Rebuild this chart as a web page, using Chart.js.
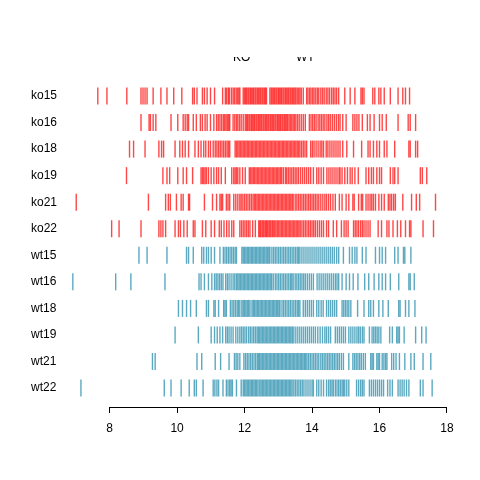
<!DOCTYPE html>
<html>
<head>
<meta charset="utf-8">
<script src="https://cdn.jsdelivr.net/npm/chart.js@4"></script>
<style>
  html, body { margin: 0; padding: 0; background: #fff; }
  #wrap { width: 480px; height: 480px; }
</style>
</head>
<body>
<div id="wrap"><canvas id="chart" width="480" height="480"></canvas></div>
<script>
// rows from top to bottom
var rowNames = ['ko15', 'ko16', 'ko18', 'ko19', 'ko21', 'ko22', 'wt15', 'wt16', 'wt18', 'wt19', 'wt21', 'wt22'];
var legendNames = ['KO', 'WT'];
var xTicks = [8, 10, 12, 14, 16, 18];

var ko15 = [7.65,7.92,8.51,8.93,8.99,9.05,9.11,9.29,9.52,9.70,9.90,10.14,10.46,10.51,10.59,10.75,10.81,10.89,10.99,11.11,11.35,11.43,
  11.47,11.52,11.55,11.61,11.66,11.70,11.75,11.79,11.83,11.86,
  11.96,12.0,12.03,12.06,12.1,12.13,12.17,12.2,12.24,12.27,12.31,12.34,12.38,12.41,12.45,12.48,12.52,12.55,12.59,12.62,12.65,
  12.75,12.79,12.82,12.86,12.89,12.93,12.96,13.0,13.03,13.07,13.1,13.14,13.17,13.21,13.24,13.28,13.31,13.35,13.38,13.42,13.45,13.49,13.52,13.56,13.6,13.64,13.68,13.74,
  13.84,13.88,13.93,13.97,14.02,14.06,14.11,14.16,14.2,14.26,14.31,14.36,14.42,14.47,14.52,14.58,14.63,14.68,14.73,
  14.79,14.97,15.13,15.27,15.45,15.49,15.54,15.80,15.86,15.98,16.04,16.14,16.32,16.55,16.69,16.77,16.89];
var ko16 = [8.93,9.17,9.21,9.29,9.37,9.82,10.02,10.18,10.24,10.30,10.34,10.48,10.57,10.69,10.75,10.83,10.89,10.99,11.09,
  11.17,11.22,11.27,11.32,11.37,11.41,11.45,11.49,11.53,11.56,
  11.66,11.71,11.76,11.8,11.85,11.9,11.96,
  12.02,12.06,12.09,12.13,12.16,12.2,12.23,12.27,12.3,12.34,12.37,12.41,12.44,12.48,12.51,12.55,12.58,12.62,12.65,12.69,12.72,12.76,12.79,12.83,12.86,12.9,12.93,12.97,13.0,13.04,13.07,13.11,13.14,13.18,13.21,13.25,13.28,13.32,13.36,13.4,13.44,13.48,13.52,13.57,13.62,13.68,13.74,
  13.80,13.92,13.97,14.02,14.07,14.12,14.18,14.23,14.28,14.33,14.38,14.44,14.49,14.54,14.6,14.66,14.72,14.78,14.83,
  14.91,15.01,15.21,15.27,15.33,15.39,15.49,15.64,15.72,15.84,16.00,16.08,16.20,16.55,16.85,16.91,17.07];
var ko18 = [8.59,8.71,9.05,9.46,9.54,9.60,9.94,10.08,10.16,10.24,10.34,10.53,10.63,10.71,10.79,10.85,10.93,10.99,11.07,
  11.13,11.18,11.23,11.28,11.33,11.38,11.43,11.48,11.52,11.56,
  11.72,11.76,11.8,11.84,11.88,11.92,11.96,12.0,12.04,12.08,12.12,12.16,12.2,12.24,12.28,12.32,12.36,12.4,12.44,12.48,12.52,12.56,12.6,12.64,12.68,12.72,12.76,12.8,12.84,12.88,12.92,12.96,13.0,13.04,13.08,13.12,13.16,13.2,13.24,13.28,13.32,13.36,13.4,13.44,13.48,13.52,13.56,13.6,13.64,13.69,13.74,13.79,13.84,
  13.96,14.01,14.06,14.12,14.18,14.24,14.29,14.34,14.42,14.47,14.53,14.59,14.65,14.71,14.77,14.83,
  14.91,15.03,15.23,15.47,15.66,15.72,15.82,15.92,16.00,16.14,16.22,16.45,16.87,16.91,17.07,17.13];
var ko19 = [8.50,9.58,9.70,9.78,10.02,10.18,10.28,10.46,10.71,10.75,10.79,10.83,10.87,10.93,11.01,11.09,11.17,11.23,11.31,11.43,11.62,11.68,11.72,11.76,11.80,11.86,11.94,12.02,
  12.14,12.18,12.22,12.26,12.3,12.34,12.38,12.42,12.46,12.5,12.54,12.58,12.62,12.66,12.7,12.74,12.78,12.82,12.86,12.9,12.94,12.98,13.02,13.06,13.1,13.15,
  13.21,13.25,13.3,13.35,13.4,13.45,13.5,13.55,13.6,13.66,13.72,13.78,13.84,13.9,13.96,14.04,
  14.14,14.2,14.27,14.34,14.44,14.5,14.56,14.62,14.68,14.74,14.8,14.83,
  14.89,14.97,15.05,15.13,15.19,15.27,15.37,15.60,15.68,15.76,15.82,15.92,16.00,16.06,16.32,16.40,16.45,16.55,17.21,17.27,17.40];
var ko21 = [7.01,9.15,9.66,9.74,9.80,9.98,10.12,10.18,10.34,10.37,10.81,11.05,11.17,11.27,11.31,11.35,11.46,11.51,11.56,11.68,11.74,11.8,11.86,
  11.9,11.95,12.0,12.05,12.1,12.15,12.2,12.25,
  12.29,12.33,12.37,12.41,12.45,12.49,12.53,12.57,12.61,12.65,12.69,12.73,12.77,12.81,12.85,12.89,12.93,12.97,13.01,13.05,13.09,13.13,13.17,13.21,13.25,13.29,13.33,13.37,13.41,13.44,
  13.5,13.55,13.6,13.65,13.7,13.75,13.8,13.85,13.9,13.95,14.0,14.05,14.1,14.15,14.2,14.26,14.32,14.38,14.43,
  14.49,14.55,14.62,14.69,14.81,14.89,15.01,15.09,15.21,15.25,15.38,15.46,15.50,15.60,15.66,15.72,15.77,15.82,15.88,15.98,16.06,16.14,16.26,16.31,16.36,16.42,16.47,16.69,16.95,17.09,17.19,17.66];
var ko22 = [8.06,8.28,8.93,9.46,9.52,9.58,9.66,9.94,10.04,10.10,10.20,10.30,10.48,10.53,10.75,10.85,11.01,11.11,11.25,11.31,11.39,11.47,11.54,11.62,11.68,
  11.86,11.91,11.96,12.01,12.06,12.11,12.16,12.24,12.32,
  12.42,12.45,12.48,12.52,12.55,12.58,12.62,12.65,12.68,12.72,12.75,12.78,12.82,12.85,
  12.89,12.93,12.97,13.01,13.05,13.09,13.13,13.17,13.21,13.25,13.29,13.33,13.37,13.41,13.45,13.49,13.53,13.57,13.61,13.65,13.7,13.75,13.8,13.85,13.9,13.95,14.0,14.05,14.1,14.16,14.22,14.28,14.34,14.43,
  14.49,14.63,14.73,14.87,14.95,15.01,15.07,15.23,15.28,15.33,15.38,15.44,15.49,15.54,15.6,15.66,15.72,15.96,16.06,16.22,16.28,16.40,16.53,16.63,16.77,16.89,16.93,17.29,17.60];
var wt15 = [8.87,9.11,9.70,10.28,10.34,10.48,10.73,10.79,10.87,10.93,11.01,11.11,11.27,
  11.37,11.42,11.47,11.52,11.57,11.62,11.67,11.72,11.76,
  11.92,11.96,12.0,12.04,12.08,12.12,12.16,12.2,12.24,12.28,12.32,12.36,12.4,12.44,12.48,12.52,12.56,12.6,12.64,12.68,12.72,12.75,
  12.81,12.86,12.91,12.96,13.01,13.06,13.11,13.16,13.21,13.26,13.31,13.36,13.41,13.46,13.51,13.56,13.6,13.64,
  13.7,13.76,13.82,13.88,13.94,14.0,14.06,14.12,14.18,14.24,
  14.30,14.36,14.42,14.48,14.54,14.6,14.66,14.73,
  14.79,14.93,15.11,15.19,15.27,15.33,15.49,15.60,15.88,16.00,16.08,16.18,16.45,16.55,16.71,16.75,16.93];
var wt16 = [6.91,8.18,8.63,9.64,10.65,10.71,10.81,10.93,11.03,11.11,11.16,11.21,11.26,11.31,11.36,11.44,11.49,11.54,11.6,11.66,11.71,11.76,
  11.8,11.84,11.88,11.92,11.96,12.0,12.04,12.08,12.12,12.16,12.2,12.24,12.28,12.32,12.36,12.4,12.44,12.48,12.52,12.56,12.6,12.64,12.68,12.72,12.76,12.8,12.85,
  12.91,12.96,13.01,13.06,13.11,13.16,13.21,13.26,13.31,13.36,13.4,13.44,
  13.5,13.55,13.6,13.65,13.7,13.75,13.8,13.86,13.92,13.98,14.04,
  14.15,14.21,14.27,14.33,14.39,14.45,14.51,14.57,14.63,14.69,14.74,14.79,
  14.89,15.01,15.11,15.22,15.36,15.56,15.68,15.84,15.98,16.08,16.18,16.32,16.57,16.87,16.91,17.03];
var wt18 = [10.04,10.16,10.28,10.40,10.57,10.87,10.93,11.09,11.13,11.23,11.38,11.42,11.46,11.58,11.63,11.68,11.73,11.78,11.82,11.86,
  11.92,11.96,12.0,12.04,12.08,12.12,12.16,
  12.22,12.26,12.3,12.34,12.38,12.42,12.46,12.5,12.54,12.58,12.62,12.66,12.7,12.74,12.78,12.82,12.86,12.9,12.94,12.98,13.02,13.05,
  13.11,13.16,13.21,13.26,13.31,13.36,13.41,13.46,13.51,13.56,13.6,13.64,
  13.74,13.8,13.86,13.92,13.98,14.04,14.14,14.2,14.27,14.33,14.43,14.49,14.55,14.61,14.67,14.73,
  14.89,14.94,14.99,15.04,15.09,15.15,15.35,15.54,15.68,15.74,15.82,15.98,16.10,16.26,16.57,16.61,16.77,16.87,17.05];
var wt19 = [9.94,10.63,11.01,11.11,11.19,11.27,11.35,11.44,11.49,11.54,11.6,11.66,11.74,11.80,11.86,11.91,11.96,12.01,12.06,
  12.12,12.17,12.22,12.27,12.32,12.37,12.41,12.45,
  12.49,12.53,12.57,12.61,12.65,12.69,12.73,12.77,12.81,12.85,12.89,12.93,12.97,13.01,13.05,13.09,13.13,13.17,13.21,13.25,13.29,13.33,13.37,13.41,13.44,
  13.5,13.56,13.62,13.68,13.74,13.8,13.86,13.92,13.98,14.04,14.1,14.17,14.24,14.31,14.38,14.43,14.49,14.55,
  14.69,14.75,14.81,14.87,14.93,14.99,15.09,15.15,15.21,15.27,15.33,15.38,15.43,15.49,15.54,15.70,15.78,15.83,15.88,15.93,15.98,16.04,16.30,16.38,16.51,16.55,16.59,16.73,17.07,17.25,17.38];
var wt21 = [9.27,9.35,10.59,10.73,11.13,11.29,11.54,11.70,11.75,11.8,11.86,11.98,12.03,12.08,12.13,12.18,12.23,12.28,12.33,12.38,12.42,12.45,
  12.49,12.53,12.57,12.61,12.65,12.69,12.73,12.77,12.81,12.85,12.89,12.93,12.97,13.01,13.05,13.09,13.13,13.17,13.21,13.25,13.29,13.33,13.37,13.41,
  13.45,13.49,13.53,13.57,13.61,13.65,13.69,13.73,13.77,13.81,13.85,13.9,13.95,14.0,14.05,14.1,14.15,14.2,
  14.26,14.31,14.36,14.41,14.46,14.51,14.56,14.61,14.66,14.71,14.76,14.81,14.87,14.93,
  15.09,15.21,15.26,15.31,15.36,15.41,15.46,15.52,15.58,15.74,15.78,15.82,15.92,15.96,16.00,16.08,16.13,16.18,16.22,16.36,16.42,16.49,16.59,16.75,16.93,17.03,17.29,17.52];
var wt22 = [7.15,9.62,9.82,10.12,10.36,10.51,10.57,10.77,11.07,11.12,11.18,11.23,11.36,11.46,11.51,11.56,11.6,11.64,11.76,11.90,
  11.96,12.0,12.04,12.08,12.12,12.16,12.2,12.24,12.28,12.32,12.36,12.4,12.45,
  12.49,12.53,12.57,12.61,12.65,12.69,12.73,12.77,12.81,12.85,12.89,12.93,12.97,13.01,13.05,13.09,13.13,13.17,13.21,13.25,13.29,13.33,13.37,13.41,
  13.46,13.51,13.56,13.61,13.66,13.71,13.76,13.82,13.88,13.94,14.0,14.04,14.14,14.2,14.27,14.34,14.43,14.49,14.54,14.59,14.63,
  14.69,14.74,14.79,14.84,14.89,14.93,14.97,15.03,15.09,15.32,15.38,15.44,15.49,15.54,15.70,15.76,15.82,15.88,15.94,16.0,16.06,16.12,16.24,16.31,16.38,16.55,16.61,16.67,16.73,16.8,16.87,17.21,17.29,17.56];

var rowValues = [ko15, ko16, ko18, ko19, ko21, ko22, wt15, wt16, wt18, wt19, wt21, wt22];
var koColor = 'rgba(255, 25, 25, 0.8)';
var wtColor = 'rgba(50, 148, 178, 0.8)';
var fontFamily = '"Liberation Sans", Arial, sans-serif';

var datasets = rowValues.map(function(vals, i) {
  var col = rowNames[i].indexOf('ko') === 0 ? koColor : wtColor;
  return {
    label: rowNames[i],
    data: vals.map(function(v) { return { x: v, y: i }; }),
    pointStyle: 'line',
    rotation: 90,
    radius: 8.5,
    borderWidth: 1.4,
    borderColor: col,
    backgroundColor: col
  };
});

// R-style axis line that only spans the first to the last tick, plus the clipped legend
var extras = {
  id: 'extras',
  afterDraw: function(chart) {
    var ctx = chart.ctx;
    var xs = chart.scales.x;
    var y0 = chart.chartArea.bottom + 0.5;
    ctx.save();
    ctx.strokeStyle = '#000';
    ctx.lineWidth = 1;
    ctx.beginPath();
    ctx.moveTo(xs.getPixelForValue(xTicks[0]), y0);
    ctx.lineTo(xs.getPixelForValue(xTicks[xTicks.length - 1]), y0);
    ctx.stroke();

    // legend sits mostly above the visible region, only its lower edge shows
    ctx.beginPath();
    ctx.rect(0, 57, 480, 6);
    ctx.clip();
    ctx.fillStyle = '#000';
    ctx.font = '12px ' + fontFamily;
    ctx.textBaseline = 'alphabetic';
    ctx.fillText(legendNames[0], 233, 61);
    ctx.fillText(legendNames[1], 296, 61);
    ctx.restore();
  }
};

new Chart(document.getElementById('chart'), {
  type: 'scatter',
  data: { datasets: datasets },
  options: {
    responsive: false,
    animation: false,
    events: [],
    layout: { padding: { top: 83, left: 31, right: 32, bottom: 0 } },
    plugins: { legend: { display: false }, tooltip: { enabled: false } },
    scales: {
      x: {
        type: 'linear',
        min: 6.47,
        max: 18.03,
        afterBuildTicks: function(scale) {
          scale.ticks = xTicks.map(function(v) { return { value: v }; });
        },
        afterFit: function(scale) { scale.height = 73; },
        border: { display: false },
        grid: { drawOnChartArea: false, drawTicks: true, tickLength: 6, color: '#000', lineWidth: 1 },
        ticks: { color: '#000', padding: 8, maxRotation: 0, font: { family: fontFamily, size: 12 } }
      },
      y: {
        type: 'linear',
        reverse: true,
        min: -0.49,
        max: 11.715,
        afterBuildTicks: function(scale) {
          scale.ticks = rowNames.map(function(n, i) { return { value: i }; });
        },
        afterFit: function(scale) { scale.width = 27; },
        border: { display: false },
        grid: { display: false, drawTicks: false },
        ticks: {
          color: '#000',
          padding: 0,
          crossAlign: 'far',
          font: { family: fontFamily, size: 12 },
          callback: function(v) { return rowNames[v]; }
        }
      }
    }
  },
  plugins: [extras]
});
</script>
</body>
</html>
